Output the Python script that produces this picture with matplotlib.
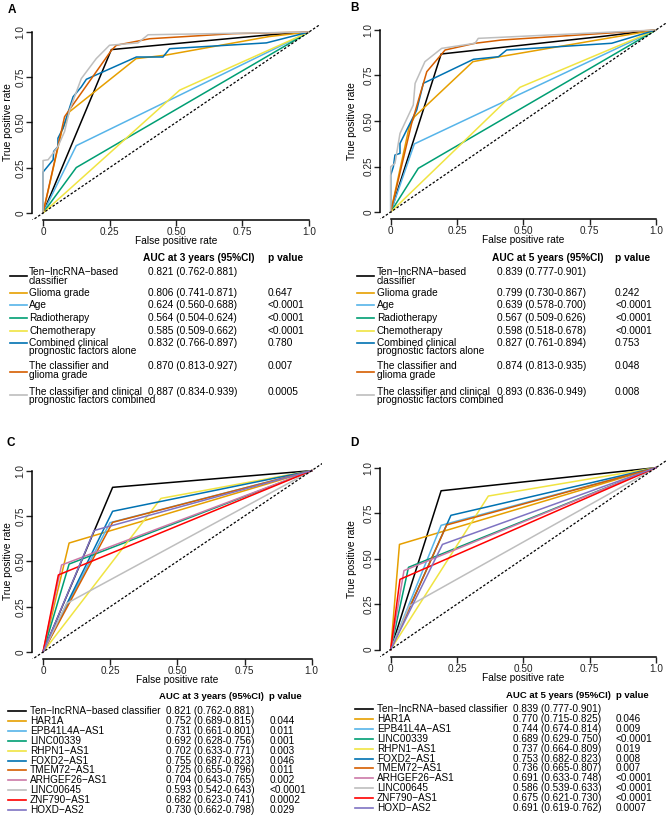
"""Time-dependent ROC curves (panels A-D) with AUC tables underneath."""
import matplotlib
matplotlib.use("Agg")
import matplotlib.pyplot as plt
from matplotlib.lines import Line2D

plt.rcParams["font.family"] = ["Liberation Sans", "DejaVu Sans"]

W, H = 669, 817

# ---- colours -------------------------------------------------------------
CLIN_COLORS = ["#000000", "#E69F00", "#56B4E9", "#009E73", "#F0E442",
               "#0072B2", "#D55E00", "#BEBEBE"]
GENE_COLORS = ["#000000", "#E69F00", "#56B4E9", "#009E73", "#F0E442",
               "#0072B2", "#D55E00", "#CC79A7", "#BEBEBE", "#FF0000", "#7F73C2"]

# ---- panel A: 3-year ROC, classifier vs clinical factors -----------------
A_FPR = [
    [0, 0.257, 0.84, 1],
    [0, 0.07, 0.10, 0.35, 0.46, 0.85, 1],
    [0, 0.125, 1],
    [0, 0.125, 1],
    [0, 0.514, 1],
    [0, 0, 0.038, 0.04, 0.056, 0.056, 0.075, 0.113, 0.144, 0.163, 0.351, 0.451, 0.476, 0.84, 1],
    [0, 0.081, 0.125, 0.257, 0.276, 0.401, 0.714, 1],
    [0, 0, 0.019, 0.038, 0.056, 0.081, 0.10, 0.144, 0.20, 0.25, 0.357, 0.395, 1],
]
A_TPR = [
    [0, 0.903, 0.983, 1],
    [0, 0.45, 0.56, 0.853, 0.872, 0.975, 1],
    [0, 0.372, 1],
    [0, 0.251, 1],
    [0, 0.679, 1],
    [0, 0.226, 0.294, 0.34, 0.367, 0.413, 0.468, 0.642, 0.697, 0.739, 0.862, 0.862, 0.908, 0.94, 1],
    [0, 0.532, 0.624, 0.899, 0.927, 0.963, 0.991, 1],
    [0, 0.29, 0.294, 0.33, 0.367, 0.45, 0.569, 0.743, 0.853, 0.927, 0.94, 0.985, 1],
]

# ---- panel B: 5-year ROC -------------------------------------------------
B_FPR = [
    [0, 0.19, 0.80, 1],
    [0, 0.07, 0.09, 0.31, 0.41, 1],
    [0, 0.089, 1],
    [0, 0.104, 1],
    [0, 0.487, 1],
    [0, 0, 0.01, 0.016, 0.035, 0.035, 0.06, 0.098, 0.123, 0.312, 0.406, 0.437, 0.833, 1],
    [0, 0.079, 0.136, 0.205, 0.318, 0.418, 1],
    [0, 0, 0.016, 0.035, 0.085, 0.092, 0.129, 0.192, 0.318, 0.33, 1],
]
B_TPR = [
    [0, 0.868, 0.965, 1],
    [0, 0.47, 0.524, 0.826, 0.853, 1],
    [0, 0.374, 1],
    [0, 0.24, 1],
    [0, 0.685, 1],
    [0, 0.203, 0.249, 0.313, 0.322, 0.377, 0.45, 0.56, 0.707, 0.839, 0.853, 0.89, 0.927, 1],
    [0, 0.487, 0.771, 0.89, 0.927, 0.945, 1],
    [0, 0.249, 0.267, 0.432, 0.588, 0.707, 0.826, 0.899, 0.927, 0.954, 1],
]

# ---- panels C/D: single-gene ROC (one cut point each) --------------------
C_FPR = [0.259, 0.097, 0.249, 0.097, 0.439, 0.259, 0.259, 0.069, 0.088, 0.057, 0.19]
C_TPR = [0.908, 0.601, 0.713, 0.485, 0.847, 0.776, 0.715, 0.480, 0.268, 0.425, 0.67]
D_FPR = [0.19, 0.033, 0.19, 0.067, 0.368, 0.227, 0.211, 0.05, 0.07, 0.035, 0.195]
D_TPR = [0.873, 0.578, 0.683, 0.452, 0.844, 0.738, 0.685, 0.434, 0.24, 0.386, 0.578]

# ---- table text ----------------------------------------------------------
CLIN_LABELS = ["Ten\u2212lncRNA\u2212based\nclassifier", "Glioma grade", "Age",
               "Radiotherapy", "Chemotherapy",
               "Combined clinical\nprognostic factors alone",
               "The classifier and\nglioma grade",
               "The classifier and clinical\nprognostic factors combined"]
A_AUC = ["0.821 (0.762-0.881)", "0.806 (0.741-0.871)", "0.624 (0.560-0.688)",
         "0.564 (0.504-0.624)", "0.585 (0.509-0.662)", "0.832 (0.766-0.897)",
         "0.870 (0.813-0.927)", "0.887 (0.834-0.939)"]
A_P = ["", "0.647", "<0.0001", "<0.0001", "<0.0001", "0.780", "0.007", "0.0005"]
B_AUC = ["0.839 (0.777-0.901)", "0.799 (0.730-0.867)", "0.639 (0.578-0.700)",
         "0.567 (0.509-0.626)", "0.598 (0.518-0.678)", "0.827 (0.761-0.894)",
         "0.874 (0.813-0.935)", "0.893 (0.836-0.949)"]
B_P = ["", "0.242", "<0.0001", "<0.0001", "<0.0001", "0.753", "0.048", "0.008"]

GENE_LABELS = ["Ten\u2212lncRNA\u2212based classifier", "HAR1A", "EPB41L4A\u2212AS1",
               "LINC00339", "RHPN1\u2212AS1", "FOXD2\u2212AS1", "TMEM72\u2212AS1",
               "ARHGEF26\u2212AS1", "LINC00645", "ZNF790\u2212AS1", "HOXD\u2212AS2"]
C_AUC = ["0.821 (0.762-0.881)", "0.752 (0.689-0.815)", "0.731 (0.661-0.801)",
         "0.692 (0.628-0.756)", "0.702 (0.633-0.771)", "0.755 (0.687-0.823)",
         "0.725 (0.655-0.796)", "0.704 (0.643-0.765)", "0.593 (0.542-0.643)",
         "0.682 (0.623-0.741)", "0.730 (0.662-0.798)"]
C_P = ["", "0.044", "0.011", "0.001", "0.003", "0.046", "0.011", "0.002",
       "<0.0001", "0.0002", "0.029"]
D_AUC = ["0.839 (0.777-0.901)", "0.770 (0.715-0.825)", "0.744 (0.674-0.814)",
         "0.689 (0.629-0.750)", "0.737 (0.664-0.809)", "0.753 (0.682-0.823)",
         "0.736 (0.665-0.807)", "0.691 (0.633-0.748)", "0.586 (0.539-0.633)",
         "0.675 (0.621-0.730)", "0.691 (0.619-0.762)"]
D_P = ["", "0.046", "0.009", "<0.0001", "0.019", "0.008", "0.007", "<0.0001",
       "<0.0001", "<0.0001", "0.0007"]

TICKS = [0, 0.25, 0.5, 0.75, 1.0]
TICK_LABELS = ["0", "0.25", "0.50", "0.75", "1.0"]


def fx(x):
    return x / W


def fy(y):
    return 1 - y / H


def roc_axes(fig, box, letter, letter_xy, ylab_x, xlab_dy):
    """box = (left, top, right, bottom) in pixels."""
    l, t, r, b = box
    ax = fig.add_axes([fx(l), fy(b), (r - l) / W, (b - t) / H])
    ax.set_xlim(-0.04, 1.04)
    ax.set_ylim(-0.04, 1.04)
    for s in ("top", "right"):
        ax.spines[s].set_visible(False)
    for s in ("left", "bottom"):
        ax.spines[s].set_bounds(0, 1)
        ax.spines[s].set_linewidth(1.1)
    ax.set_xticks(TICKS)
    ax.set_xticklabels(TICK_LABELS)
    ax.set_yticks(TICKS)
    ax.set_yticklabels(TICK_LABELS, rotation=90, va="center")
    ax.tick_params(direction="out", length=4, width=1.0, labelsize=7.2,
                   pad=1, colors="#222222")
    ax.plot([-0.1, 1.1], [-0.1, 1.1], color="black", lw=0.9,
            ls=(0, (2, 1.5)), zorder=5)
    ax.text((ylab_x - l) / (r - l), 0.5, "True positive rate", rotation=90,
            ha="center", va="center", fontsize=7.3, transform=ax.transAxes)
    ax.text(0.5, -xlab_dy / (b - t), "False positive rate", ha="center",
            va="center", fontsize=7.3, transform=ax.transAxes)
    fig.text(fx(letter_xy[0]), fy(letter_xy[1]), letter, fontsize=8.5,
             fontweight="bold", ha="left", va="center")
    return ax


def clin_table(fig, x_line, x_text, x_auc, x_p, auc, pvals, title):
    fig.text(fx(x_auc - 5), fy(258.3), title, fontsize=7.3, fontweight="bold",
             ha="left", va="center")
    fig.text(fx(x_p), fy(258.3), "p value", fontsize=7.3, fontweight="bold",
             ha="left", va="center")
    row_y = [272.3, 293, 305, 318.3, 330.7, 342.7, 366, 391.7]
    line_y = [276, 293, 305, 318.3, 330.7, 343.3, 371.7, 395]
    for i, lab in enumerate(CLIN_LABELS):
        for j, part in enumerate(lab.split("\n")):
            fig.text(fx(x_text), fy(row_y[i] + j * 8.6), part, fontsize=7.3,
                     ha="left", va="center")
        fig.text(fx(x_auc), fy(row_y[i]), auc[i], fontsize=7.3, ha="left",
                 va="center")
        fig.text(fx(x_p), fy(row_y[i]), pvals[i], fontsize=7.3, ha="left",
                 va="center")
        fig.add_artist(Line2D([fx(x_line), fx(x_line + 17)],
                              [fy(line_y[i]), fy(line_y[i])],
                              color=CLIN_COLORS[i], lw=1.2))


def gene_table(fig, y_head, y0, step, x_line, x_text, x_auc, x_p, auc, pvals, title):
    fig.text(fx(x_auc - 7), fy(y_head), title, fontsize=6.8, fontweight="bold",
             ha="left", va="center")
    fig.text(fx(x_p), fy(y_head), "p value", fontsize=6.8, fontweight="bold",
             ha="left", va="center")
    for i, lab in enumerate(GENE_LABELS):
        y = y0 + i * step
        fig.text(fx(x_text), fy(y), lab, fontsize=7.2, ha="left", va="center")
        fig.text(fx(x_auc), fy(y), auc[i], fontsize=7.2, ha="left", va="center")
        fig.text(fx(x_p), fy(y), pvals[i], fontsize=7.2, ha="left", va="center")
        fig.add_artist(Line2D([fx(x_line), fx(x_line + 18)], [fy(y), fy(y)],
                              color=GENE_COLORS[i], lw=1.2))


fig = plt.figure(figsize=(W / 100, H / 100), dpi=100)

# A
ax = roc_axes(fig, (32.4, 24.8, 319.6, 220.2), "A", (7.3, 10), 8, 20.5)
for f, t, c in zip(A_FPR, A_TPR, CLIN_COLORS):
    ax.plot(f, t, color=c, lw=1.1)
clin_table(fig, 10, 29, 148, 268, A_AUC, A_P, "AUC at 3 years (95%CI)")

# B
ax = roc_axes(fig, (380.1, 22.7, 666.6, 219.3), "B", (350, 8.3), 351.7, 20.5)
for f, t, c in zip(B_FPR, B_TPR, CLIN_COLORS):
    ax.plot(f, t, color=c, lw=1.1)
clin_table(fig, 356.7, 376.7, 497.3, 615, B_AUC, B_P, "AUC at 5 years (95%CI)")

# C
ax = roc_axes(fig, (32.3, 463.4, 322.4, 659.3), "C", (6.7, 442.7), 8.3, 20.5)
for f, t, c in zip(C_FPR, C_TPR, GENE_COLORS):
    ax.plot([0, f, 1], [0, t, 1], color=c, lw=1.1)
gene_table(fig, 696.7, 711, 9.9, 8, 30, 165.7, 269.3, C_AUC, C_P,
           "AUC at 3 years (95%CI)")

# D
ax = roc_axes(fig, (380.1, 460.4, 666.6, 656.8), "D", (350.7, 443.3), 352.3, 21)
for f, t, c in zip(D_FPR, D_TPR, GENE_COLORS):
    ax.plot([0, f, 1], [0, t, 1], color=c, lw=1.1)
gene_table(fig, 695, 709.3, 9.85, 355, 376.7, 512.7, 616, D_AUC, D_P,
           "AUC at 5 years (95%CI)")

fig.savefig("out.png", dpi=100)
